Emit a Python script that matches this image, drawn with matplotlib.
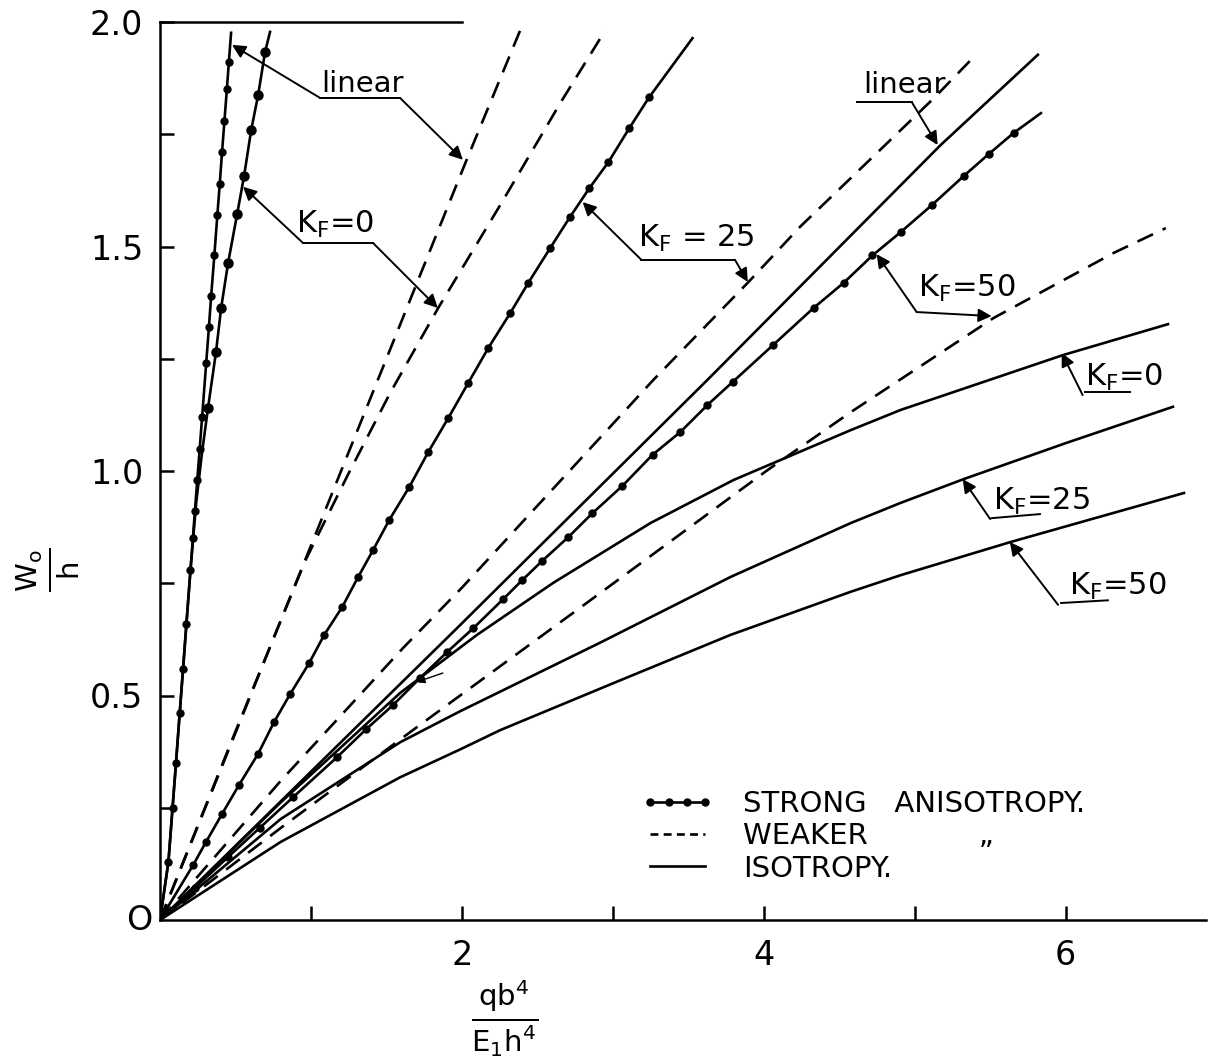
import matplotlib
matplotlib.use("Agg")
import matplotlib.pyplot as plt
from matplotlib.lines import Line2D
from matplotlib.ticker import FixedLocator, NullFormatter, FixedFormatter

plt.rcParams['font.family'] = ['DejaVu Sans']
plt.rcParams['mathtext.fontset'] = 'dejavusans'

# ---- data: q b^4 / (E1 h^4)  vs  w0 / h ----
# strong anisotropy (solid line with dots)
strong_lin_x = [0, 0.056, 0.083, 0.106, 0.130, 0.153, 0.175, 0.202, 0.218, 0.231, 0.247, 0.263,
                0.279, 0.306, 0.324, 0.339, 0.360, 0.380, 0.396, 0.411, 0.427, 0.443, 0.456, 0.471]
strong_lin_y = [0, 0.13, 0.25, 0.35, 0.46, 0.56, 0.66, 0.78, 0.85, 0.91, 0.98, 1.05,
                1.12, 1.24, 1.32, 1.39, 1.48, 1.57, 1.64, 1.71, 1.78, 1.85, 1.91, 1.976]
strong_k0_x = [0, 0.056, 0.106, 0.153, 0.202, 0.240, 0.278, 0.318, 0.371, 0.405, 0.451,
               0.511, 0.557, 0.604, 0.650, 0.696, 0.729]
strong_k0_y = [0, 0.13, 0.35, 0.56, 0.78, 0.93, 1.04, 1.14, 1.265, 1.363, 1.463,
               1.572, 1.657, 1.759, 1.837, 1.933, 1.978]
strong_k25_x = [0, 0.219, 0.305, 0.411, 0.524, 0.650, 0.756, 0.862, 0.988, 1.088, 1.207, 1.313,
                1.412, 1.519, 1.651, 1.777, 1.910, 2.042, 2.175, 2.321, 2.440, 2.586, 2.715,
                2.845, 2.971, 3.110, 3.240, 3.528]
strong_k25_y = [0, 0.122, 0.174, 0.236, 0.301, 0.370, 0.441, 0.503, 0.572, 0.635, 0.697, 0.764,
                0.824, 0.891, 0.964, 1.042, 1.118, 1.196, 1.274, 1.352, 1.419, 1.497, 1.565,
                1.630, 1.688, 1.764, 1.832, 1.964]
strong_k50_x = [0, 0.23, 0.45, 0.66, 0.88, 1.174, 1.366, 1.545, 1.72, 1.903, 2.076, 2.275, 2.400,
                2.533, 2.706, 2.865, 3.064, 3.263, 3.448, 3.627, 3.793, 4.06, 4.330, 4.529,
                4.72, 4.907, 5.113, 5.325, 5.491, 5.656, 5.836]
strong_k50_y = [0, 0.071, 0.14, 0.205, 0.273, 0.363, 0.425, 0.479, 0.538, 0.597, 0.650, 0.715,
                0.757, 0.800, 0.853, 0.906, 0.967, 1.036, 1.087, 1.147, 1.198, 1.28, 1.363,
                1.419, 1.48, 1.532, 1.592, 1.657, 1.706, 1.753, 1.797]

# weaker anisotropy (dashed)
weak_lin_x = [0, 0.962, 2.023, 2.387]
weak_lin_y = [0, 0.802, 1.686, 1.982]
weak_k0_x = [0, 0.5, 0.962, 1.25, 1.525, 1.843, 2.25, 2.653, 2.951]
weak_k0_y = [0, 0.42, 0.80, 0.995, 1.174, 1.363, 1.59, 1.82, 1.982]
weak_k25_x = [0, 0.8, 1.611, 2.0, 3.269, 3.899, 4.244, 4.755, 5.126, 5.391]
weak_k25_y = [0, 0.31, 0.606, 0.74, 1.203, 1.421, 1.545, 1.71, 1.83, 1.922]
weak_k50_x = [0, 0.8, 1.704, 2.871, 4.025, 4.576, 5.524, 6.320, 6.664]
weak_k50_y = [0, 0.205, 0.430, 0.717, 1.002, 1.131, 1.341, 1.486, 1.541]

# isotropy (plain solid)
iso_lin_x = [0, 1.989, 3.627, 5.172, 5.816]
iso_lin_y = [0, 0.657, 1.203, 1.726, 1.927]
iso_k0_x = [0, 0.8, 1.2, 1.592, 2.1, 2.606, 3.249, 3.800, 4.576, 4.907, 5.981, 6.678]
iso_k0_y = [0, 0.262, 0.385, 0.506, 0.635, 0.751, 0.884, 0.980, 1.091, 1.136, 1.258, 1.327]
iso_k25_x = [0, 0.8, 1.592, 1.81, 1.989, 2.918, 3.780, 4.576, 4.907, 5.325, 6.0, 6.711]
iso_k25_y = [0, 0.225, 0.396, 0.434, 0.465, 0.618, 0.764, 0.884, 0.929, 0.982, 1.062, 1.143]
iso_k50_x = [0, 0.8, 1.592, 1.989, 2.255, 3.0, 3.780, 4.576, 4.907, 5.637, 6.784]
iso_k50_y = [0, 0.174, 0.318, 0.380, 0.423, 0.527, 0.635, 0.731, 0.768, 0.842, 0.951]

x_major = [2, 4, 6]
x_minor = [1, 3, 5]
y_major = [0.5, 1.0, 1.5, 2.0]
y_major_labels = ['0.5', '1.0', '1.5', '2.0']
y_minor = [0.25, 0.75, 1.25, 1.75]

legend_labels = ['STRONG   ANISOTROPY.', 'WEAKER            \u201e', 'ISOTROPY.']

LW = 1.9
DASH = (0, (6.5, 4.0))

fig = plt.figure(figsize=(12.09, 10.64), dpi=100)
ax = fig.add_axes([160 / 1209, 144 / 1064, 1046 / 1209, 898 / 1064])

dot = dict(color='black', lw=LW, marker='o', markersize=5)
ax.plot(strong_lin_x, strong_lin_y, markevery=slice(1, -1), **dot)
ax.plot(strong_k0_x, strong_k0_y, color='black', lw=LW)
ax.plot(strong_k0_x[7:-1], strong_k0_y[7:-1], ls='none', marker='o', markersize=6.5, color='black')
ax.plot(strong_k25_x, strong_k25_y, markevery=slice(1, -1), **dot)
ax.plot(strong_k50_x, strong_k50_y, markevery=slice(1, -1), **dot)

for xs, ys in [(weak_lin_x, weak_lin_y), (weak_k0_x, weak_k0_y),
               (weak_k25_x, weak_k25_y), (weak_k50_x, weak_k50_y)]:
    ax.plot(xs, ys, color='black', lw=LW, linestyle=DASH)

for xs, ys in [(iso_lin_x, iso_lin_y), (iso_k0_x, iso_k0_y),
               (iso_k25_x, iso_k25_y), (iso_k50_x, iso_k50_y)]:
    ax.plot(xs, ys, color='black', lw=LW)

ax.set_xlim(0, 6.93)
ax.set_ylim(0, 2.0)

# hand-drawn style frame: left + bottom axes, short top edge
ax.spines['right'].set_visible(False)
ax.spines['top'].set_visible(False)
for s in ['left', 'bottom']:
    ax.spines[s].set_linewidth(1.8)
ax.plot([0, 2.0], [2.0, 2.0], color='black', lw=1.8, clip_on=False)

ax.xaxis.set_major_locator(FixedLocator(x_major))
ax.xaxis.set_minor_locator(FixedLocator(x_minor))
ax.yaxis.set_major_locator(FixedLocator(y_major))
ax.yaxis.set_major_formatter(FixedFormatter(y_major_labels))
ax.yaxis.set_minor_locator(FixedLocator(y_minor))
ax.xaxis.set_minor_formatter(NullFormatter())
ax.tick_params(which='both', direction='in', length=10, width=1.8, labelsize=24)
ax.tick_params(axis='x', pad=14)
ax.tick_params(axis='y', pad=12)
ax.text(-0.05, 0.0, 'O', fontsize=24, ha='right', va='center')

# axis titles (fractions)
fig.text(505 / 1209, 1 - 1018 / 1064, r'$\frac{\mathrm{qb^4}}{\mathrm{E_1h^4}}$', fontsize=30,
         ha='center', va='center')
fig.text(48 / 1209, 1 - 570 / 1064, r'$\frac{\mathrm{W_o}}{\mathrm{h}}$', fontsize=30,
         rotation=90, ha='center', va='center')

# annotations
arw = dict(arrowstyle='-|>', color='black', lw=1.4, mutation_scale=20, shrinkA=0, shrinkB=0)
lk = dict(color='black', lw=1.4)


def leader(start, end):
    ax.annotate('', xy=end, xytext=start, arrowprops=arw)


def kf(val):
    return r'K$_{\mathrm{F}}$=' + val

# "linear" top-left
ax.text(1.07, 1.845, 'linear', fontsize=21, ha='left', va='baseline')
ax.plot([1.06, 1.59], [1.831, 1.831], **lk)
leader((1.06, 1.831), (0.477, 1.949))
leader((1.59, 1.831), (2.007, 1.693))

# K_F = 0 left
ax.text(0.90, 1.53, kf('0'), fontsize=22, ha='left', va='baseline')
ax.plot([0.947, 1.411], [1.508, 1.508], **lk)
leader((0.947, 1.508), (0.55, 1.633))
leader((1.411, 1.508), (1.841, 1.363))

# K_F = 25 middle
ax.text(3.17, 1.50, r'K$_{\mathrm{F}}$ = 25', fontsize=22, ha='left', va='baseline')
ax.plot([3.19, 3.81], [1.47, 1.47], **lk)
leader((3.19, 1.47), (2.80, 1.599))
leader((3.81, 1.47), (3.894, 1.421))

# "linear" right
ax.text(4.66, 1.842, 'linear', fontsize=21, ha='left', va='baseline')
ax.plot([4.62, 4.98], [1.822, 1.822], **lk)
leader((4.98, 1.822), (5.152, 1.726))

# K_F = 50 mid-right
ax.text(5.02, 1.388, kf('50'), fontsize=22, ha='left', va='baseline')
leader((5.013, 1.354), (4.748, 1.483))
leader((5.013, 1.354), (5.51, 1.345))

# K_F = 0 right
ax.text(6.13, 1.19, kf('0'), fontsize=22, ha='left', va='baseline')
ax.plot([6.126, 6.424], [1.176, 1.176], **lk)
leader((6.113, 1.169), (5.974, 1.263))

# K_F = 25 right
ax.text(5.52, 0.913, kf('25'), fontsize=22, ha='left', va='baseline')
ax.plot([5.51, 5.83], [0.895, 0.904], **lk)
leader((5.50, 0.893), (5.318, 0.982))

# K_F = 50 right
ax.text(6.02, 0.724, kf('50'), fontsize=22, ha='left', va='baseline')
ax.plot([5.97, 6.28], [0.706, 0.712], **lk)
leader((5.95, 0.702), (5.63, 0.842))

# small stray arrow near the middle
ax.annotate('', xy=(1.70, 0.53), xytext=(1.874, 0.55),
            arrowprops=dict(arrowstyle='-|>', color='black', lw=1.0, mutation_scale=12,
                            shrinkA=0, shrinkB=0))

handles = [Line2D([], [], color='black', lw=LW, marker='o', markersize=5),
           Line2D([], [], color='black', lw=LW, linestyle=(0, (3, 2))),
           Line2D([], [], color='black', lw=LW)]
ax.legend(handles, legend_labels, loc='upper left', bbox_to_anchor=(0.449, 0.158),
          frameon=False, fontsize=21, numpoints=4, handlelength=2.5, handletextpad=1.0,
          labelspacing=0.15, borderaxespad=0)

fig.savefig('out.png', dpi=100)
